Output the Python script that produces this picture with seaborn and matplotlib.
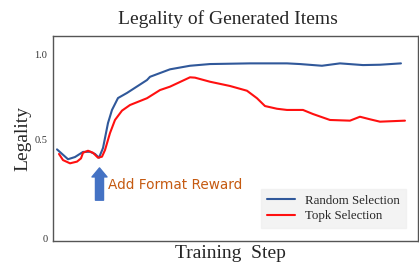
import numpy as np
import pandas as pd
import seaborn as sns
import matplotlib.pyplot as plt

# values (step = pixel offset along the x axis)
random_step = [4, 15, 22, 30, 37, 42, 46, 50, 55, 59, 65, 74, 94, 97, 117, 137, 157, 197, 234,
               247, 269, 287, 310, 327, 348]
random_val = [0.439, 0.381, 0.394, 0.424, 0.425, 0.412, 0.39, 0.447, 0.594, 0.671, 0.741, 0.771,
              0.847, 0.866, 0.91, 0.931, 0.941, 0.945, 0.945, 0.941, 0.931, 0.945, 0.935, 0.937,
              0.945]

topk_step = [6, 10, 17, 24, 28, 30, 35, 40, 45, 49, 52, 57, 62, 69, 77, 94, 107, 117, 137, 142,
             157, 177, 194, 204, 212, 224, 234, 250, 260, 277, 297, 307, 317, 327, 352]
topk_val = [0.412, 0.376, 0.357, 0.367, 0.386, 0.419, 0.431, 0.419, 0.39, 0.396, 0.435, 0.535,
            0.612, 0.667, 0.7, 0.74, 0.788, 0.808, 0.863, 0.861, 0.837, 0.812, 0.784, 0.74,
            0.694, 0.678, 0.671, 0.671, 0.647, 0.612, 0.608, 0.631, 0.616, 0.602, 0.608]

ytick_pos = [-0.085, 0.5, 1.0]
ytick_lab = ["0", "0.5", "1.0"]

df = pd.concat([
    pd.DataFrame({"step": random_step, "legality": random_val, "method": "Random Selection"}),
    pd.DataFrame({"step": topk_step, "legality": topk_val, "method": "Topk Selection"}),
])

sns.set_style("white")
plt.rcParams['font.family'] = ['Liberation Serif', 'DejaVu Serif']

fig = plt.figure(figsize=(4.19, 2.77), dpi=100)
ax = fig.add_axes([0.1265, 0.13, 0.871, 0.74])

sns.lineplot(data=df, x="step", y="legality", hue="method",
             palette={"Random Selection": "#30589a", "Topk Selection": "#ff1010"},
             linewidth=1.5, ax=ax)

ax.set_xlim(0, 365)
ax.set_ylim(-0.1, 1.106)
ax.set_xticks([])
ax.set_yticks(ytick_pos)
ax.set_yticklabels(ytick_lab, fontsize=7.5, color="#333333")
ax.tick_params(axis="y", length=3, width=0.8, color="#555555", pad=1)
# no tick mark next to the "0" label
ax.yaxis.get_major_ticks()[0].tick1line.set_visible(False)

for s in ax.spines.values():
    s.set_color("#555555")
    s.set_linewidth(1.0)

ax.set_title("Legality of Generated Items", fontsize=14, pad=9, x=0.48)
ax.set_xlabel("Training  Step", fontsize=14, labelpad=3)
ax.xaxis.label.set_x(0.485)
ax.set_ylabel("Legality", fontsize=14, labelpad=2)

# arrow + note
ax.annotate("", xy=(46.5, 0.33), xytext=(46.5, 0.14),
            arrowprops=dict(arrowstyle="simple,head_length=0.65,head_width=1.08,tail_width=0.58",
                            mutation_scale=10, color="#4472c4", shrinkA=0, shrinkB=0))
ax.text(55, 0.229, "Add Format Reward", fontsize=9.8, color="#c55a11",
        family=["DejaVu Sans"], va="center", ha="left")

leg = ax.legend(loc="lower right", bbox_to_anchor=(0.967, 0.063), borderaxespad=0,
                fontsize=9.3, frameon=True, fancybox=False, handlelength=2.2,
                handletextpad=0.8, borderpad=0.45, labelspacing=0.25)
leg.get_frame().set_facecolor("#f0f0f0")
leg.get_frame().set_edgecolor("#f0f0f0")
leg.set_title(None)

fig.savefig("out.png", dpi=100)
